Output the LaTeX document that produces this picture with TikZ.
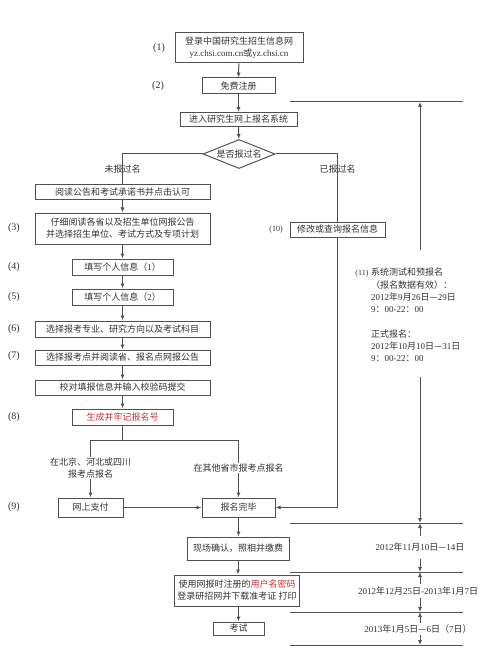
\documentclass[tikz,border=0pt]{standalone}
\usepackage{fontspec}
\setmainfont{Noto Sans CJK SC}
\newfontfamily\lat{Liberation Serif}
\usetikzlibrary{arrows}
\usetikzlibrary{arrows.meta}
\usetikzlibrary{shapes.geometric}

\definecolor{linegray}{RGB}{80,80,80}
\definecolor{textgray}{RGB}{50,50,50}
\definecolor{regred}{RGB}{192,50,55}

\begin{document}
\begin{tikzpicture}[x=1pt,y=1pt,yscale=-1,xscale=1,
  flowbox/.style={draw=linegray, line width=1pt, text=textgray, align=center, inner sep=1pt, font=\fontsize{9}{12}\selectfont},
  flowline/.style={draw=linegray, line width=1pt},
  flowarrow/.style={flowline, -{Latex[length=5pt,width=4pt]}},
  steplabel/.style={text=textgray, inner sep=0.75pt, font=\lat\fontsize{10}{12}\selectfont},
  branchlabel/.style={text=textgray, inner sep=1pt, align=center, font=\fontsize{9}{12}\selectfont},
  routelabel/.style={branchlabel, fill=white},
  datelabel/.style={text=textgray, fill=white, inner xsep=1pt, font=\fontsize{9}{12}\selectfont}]
%set diagram size to the reference
\path[use as bounding box] (0,0) rectangle (500,652);

%Shape: Rectangle [login]
\draw (239,48) node [flowbox, minimum width=128pt, minimum height=30pt] (login) {登录中国研究生招生信息网\\{\lat yz.chsi.com.cn}或{\lat yz.chsi.cn}};
%Shape: Rectangle [signup]
\draw (238.5,86) node [flowbox, minimum width=73pt, minimum height=16pt] (signup) {免费注册};
%Shape: Rectangle [enter]
\draw (238.5,119.5) node [flowbox, minimum width=117pt, minimum height=14pt] (enter) {进入研究生网上报名系统};
%Flowchart: Decision [check]
\draw (239,154) node [flowbox, diamond, aspect=2.5, inner sep=0.5pt, minimum width=72pt, minimum height=29pt] (check) {是否报过名};

%Shape: Rectangle [read]
\draw (122.5,192.5) node [flowbox, minimum width=175pt, minimum height=15pt] (read) {阅读公告和考试承诺书并点击认可};
%Shape: Rectangle [guide]
\draw (122.5,228.5) node [flowbox, minimum width=175pt, minimum height=31pt] (guide) {仔细阅读各省以及招生单位网报公告\\并选择招生单位、考试方式及专项计划};
%Shape: Rectangle [info1]
\draw (122.5,267) node [flowbox, minimum width=101pt, minimum height=16pt] (info1) {填写个人信息（{\lat 1}）};
%Shape: Rectangle [info2]
\draw (122.5,297) node [flowbox, minimum width=101pt, minimum height=16pt] (info2) {填写个人信息（{\lat 2}）};
%Shape: Rectangle [major]
\draw (122.5,329) node [flowbox, minimum width=175pt, minimum height=16pt] (major) {选择报考专业、研究方向以及考试科目};
%Shape: Rectangle [site]
\draw (122.5,357.5) node [flowbox, minimum width=175pt, minimum height=15pt] (site) {选择报考点并阅读省、报名点网报公告};
%Shape: Rectangle [verify]
\draw (122.5,387.5) node [flowbox, minimum width=175pt, minimum height=15pt] (verify) {校对填报信息并输入校验码提交};
%Shape: Rectangle [regno]
\draw (122.5,417) node [flowbox, text=regred, minimum width=101pt, minimum height=16pt] (regno) {生成并牢记报名号};

%Shape: Rectangle [modify]
\draw (337.5,229.5) node [flowbox, minimum width=95pt, minimum height=15pt] (modify) {修改或查询报名信息};

%Shape: Rectangle [pay]
\draw (90.5,507.5) node [flowbox, minimum width=65pt, minimum height=19pt] (pay) {网上支付};
%Shape: Rectangle [done]
\draw (238.5,507.5) node [flowbox, minimum width=73pt, minimum height=19pt] (done) {报名完毕};
%Shape: Rectangle [confirm]
\draw (238,548.5) node [flowbox, minimum width=102pt, minimum height=23pt] (confirm) {现场确认，照相并缴费};
%Shape: Rectangle [print]
\draw (237,590.5) node [flowbox, minimum width=125pt, minimum height=31pt] (print) {使用网报时注册的{\color{regred}用户名密码}\\登录研招网并下载准考证 打印};
%Shape: Rectangle [exam]
\draw (238.5,628.5) node [flowbox, minimum width=51pt, minimum height=13pt] (exam) {考试};

% Text Node
\draw (159,48) node [steplabel] (s1) {(1)};
% Text Node
\draw (158,86) node [steplabel] (s2) {(2)};
% Text Node
\draw (14,228.5) node [steplabel] (s3) {(3)};
% Text Node
\draw (14,267) node [steplabel] (s4) {(4)};
% Text Node
\draw (14,297) node [steplabel] (s5) {(5)};
% Text Node
\draw (14,329) node [steplabel] (s6) {(6)};
% Text Node
\draw (14,356.5) node [steplabel] (s7) {(7)};
% Text Node
\draw (14,417) node [steplabel] (s8) {(8)};
% Text Node
\draw (14,507.5) node [steplabel] (s9) {(9)};
% Text Node
\draw (276,229.5) node [steplabel, font=\lat\fontsize{8}{10}\selectfont] (s10) {(10)};
% Text Node
\draw (362,274) node [steplabel, font=\lat\fontsize{8}{10}\selectfont] (s11) {(11)};

%Straight Lines [main flow]
\draw [flowarrow] (login) -- (signup);
\draw [flowarrow] (signup) -- (enter);
\draw [flowarrow] (enter) -- (check);
\draw [flowline] (check.west) -| (read.north);
\draw [flowline] (check.east) -| (modify.north);
\draw [flowarrow] (read) -- (guide);
\draw [flowarrow] (guide) -- (info1);
\draw [flowarrow] (info1) -- (info2);
\draw [flowarrow] (info2) -- (major);
\draw [flowarrow] (major) -- (site);
\draw [flowarrow] (site) -- (verify);
\draw [flowarrow] (verify) -- (regno);
% Text Node
\draw (122.5,169) node [branchlabel] (notyet) {未报过名};
% Text Node
\draw (337.5,169) node [branchlabel] (already) {已报过名};

%Straight Lines [split after regno]
\coordinate (splitL) at (90.5,440);
\coordinate (splitR) at (238.5,440);
\draw [flowline] (regno.south) -- (regno.south |- splitL);
\draw [flowline] (splitL) -- (splitR);
\draw [flowarrow] (splitL) -- (pay.north);
\draw [flowarrow] (splitR) -- (done.north);
% Text Node
\draw (90.5,468) node [routelabel] (local) {在北京、河北或四川\\报考点报名};
% Text Node
\draw (238.5,468) node [routelabel] (other) {在其他省市报考点报名};
\draw [flowarrow] (pay) -- (done);
\draw [flowarrow] (modify.south) |- (done.east);
\draw [flowarrow] (done) -- (done.south |- confirm.north);
\draw [flowarrow] (confirm.south) -- (confirm.south |- print.north);
\draw [flowarrow] (print.south -| exam.north) -- (exam.north);

%Straight Lines [time scale]
\foreach \t/\y in {t0/102,t1/523,t2/572,t3/612,t4/645}{
  \draw [flowline] (290,\y) -- (463,\y);
  \coordinate (\t) at (420,\y);
}
\coordinate (winTop) at (420,250);
\coordinate (winBot) at (420,377);
\draw [flowarrow] (winTop) -- (t0);
\draw [flowarrow] (winBot) -- (t1);

% Text Node
\draw (371,268) node [anchor=north west, inner sep=0pt, align=left, text=textgray, font=\fontsize{9}{12.3}\selectfont] (period) {系统测试和预报名\\（报名数据有效）：\\{\lat 2012}年{\lat 9}月{\lat 26}日—{\lat 29}日\\{\lat 9}：{\lat 00-22}：{\lat 00}\\[12.3pt]正式报名：\\{\lat 2012}年{\lat 10}月{\lat 10}日—{\lat 31}日\\{\lat 9}：{\lat 00-22}：{\lat 00}};

% Text Node
\draw (420,547.5) node [datelabel, inner ysep=7pt] (d1) {{\lat 2012}年{\lat 11}月{\lat 10}日—{\lat 14}日};
\draw [flowarrow] (d1.north) -- (t1);
\draw [flowarrow] (d1.south) -- (t2);
% Text Node
\draw (418,591) node [datelabel, inner ysep=3pt] (d2) {{\lat 2012}年{\lat 12}月{\lat 25}日{\lat -2013}年{\lat 1}月{\lat 7}日};
\draw [flowarrow] (d2.north -| t2) -- (t2);
\draw [flowarrow] (d2.south -| t3) -- (t3);
% Text Node
\draw (418,629) node [datelabel, inner ysep=2pt] (d3) {{\lat 2013}年{\lat 1}月{\lat 5}日—{\lat 6}日（{\lat 7}日）};
\draw [flowarrow] (d3.north -| t3) -- (t3);
\draw [flowarrow] (d3.south -| t4) -- (t4);

\end{tikzpicture}
\end{document}
